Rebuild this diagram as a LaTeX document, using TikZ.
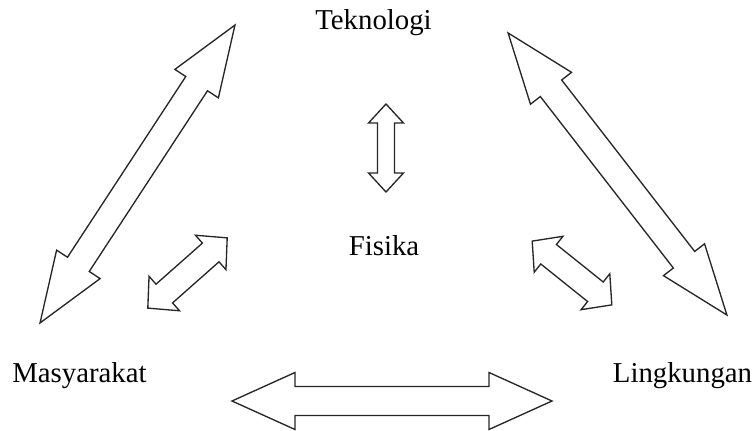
\documentclass[tikz,border=0pt]{standalone}
\usepackage{fontspec}
\setmainfont{Liberation Serif}
\begin{document}
\begin{tikzpicture}[
  x=0.75pt, y=-0.75pt,
  label/.style={font=\fontsize{21.6}{26}\selectfont, inner sep=0pt, anchor=base},
  outline/.style={draw=black!85, line width=1pt, line join=miter, fill=white},
  % double block arrow: total length / head length / head half-width / shaft half-width
  pics/dblarrow/.style args={#1/#2/#3/#4}{code={
    \pgfmathsetmacro\dahalf{#1/2}
    \pgfmathsetmacro\daneck{#1/2-#2}
    \draw[outline] (-\dahalf,0) -- (-\daneck,#3) -- (-\daneck,#4) -- (\daneck,#4)
      -- (\daneck,#3) -- (\dahalf,0) -- (\daneck,-#3) -- (\daneck,-#4)
      -- (-\daneck,-#4) -- (-\daneck,-#3) -- cycle;
  }}
]
\useasboundingbox (0,0) rectangle (756,431);

% labels
\node[label] (tek) at (373.5,30) {Teknologi};
\node[label] (fis) at (384,255) {Fisika};
\node[label] (mas) at (79.5,382) {Masyarakat};
\node[label] (lin) at (682.5,382) {Lingkungan};

% large arrows between the outer labels
\pic[rotate=56.8]  at (137.5,174) {dblarrow=356/70/26/13};
\pic[rotate=-52.2] at (617.5,174) {dblarrow=357/70/26/13.5};
\pic               at (392,401)   {dblarrow=320/63/28.5/14.5};

% small arrows around Fisika
\pic[rotate=90]    at (386,148)   {dblarrow=88/19/17.5/8.5};
\pic[rotate=41.5]  at (187.5,273) {dblarrow=106/22/23/12.5};
\pic[rotate=-38.7] at (572,273)   {dblarrow=102/21/23/12.5};
\end{tikzpicture}
\end{document}
